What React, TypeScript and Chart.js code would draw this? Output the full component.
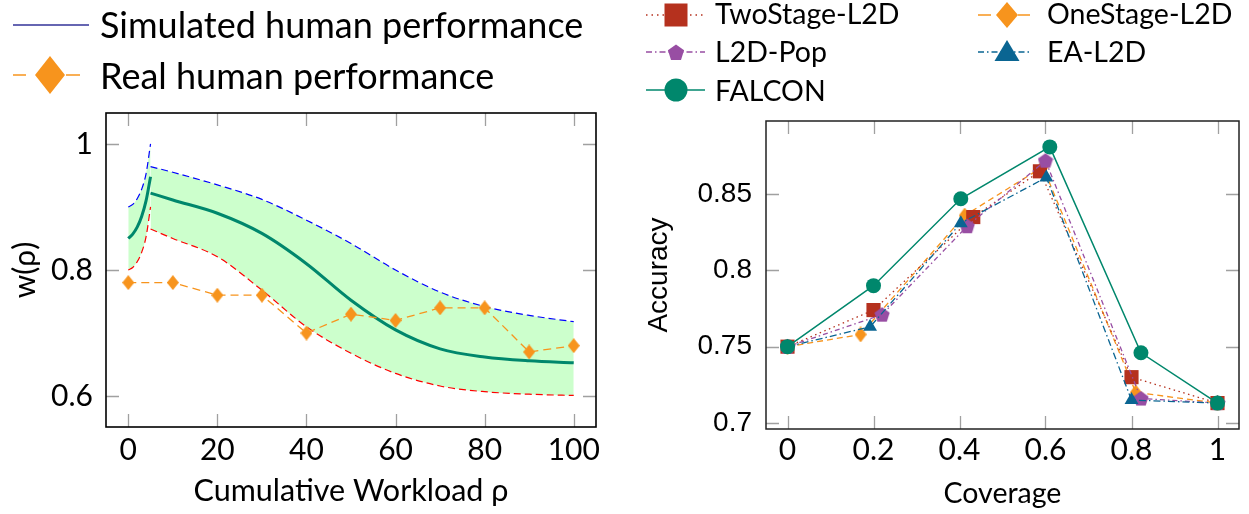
import React, { useEffect, useRef } from 'react';
import { Chart, registerables } from 'chart.js';

Chart.register(...registerables);

// ---------------- Left panel data ----------------
const realWorkload = [0, 10, 20, 30, 40, 50, 60, 70, 80, 90, 100];
const realPerformance = [0.78, 0.78, 0.76, 0.76, 0.70, 0.73, 0.72, 0.74, 0.74, 0.67, 0.68];

const warmupWorkload = [0, 1, 2, 3, 4, 5];
const warmupUpper = [0.9, 0.904, 0.913, 0.928, 0.953, 1.0];
const warmupMean = [0.85, 0.857, 0.868, 0.885, 0.91, 0.948];
const warmupLower = [0.8, 0.804, 0.813, 0.828, 0.853, 0.9];

const simWorkload = [5, 10, 20, 30, 40, 50, 60, 70, 80, 90, 100];
const simUpper = [0.964, 0.955, 0.935, 0.912, 0.879, 0.842, 0.8, 0.765, 0.742, 0.728, 0.718];
const simMean = [0.922, 0.911, 0.89, 0.858, 0.81, 0.752, 0.705, 0.675, 0.662, 0.656, 0.653];
const simLower = [0.865, 0.85, 0.821, 0.768, 0.71, 0.668, 0.636, 0.616, 0.607, 0.603, 0.601];

const leftXTicks = [0, 20, 40, 60, 80, 100];
const leftXLabels = ['0', '20', '40', '60', '80', '100'];
const leftYTicks = [0.6, 0.8, 1];
const leftYLabels = ['0.6', '0.8', '1'];

// ---------------- Right panel data ----------------
const coverageTwoStage = [0, 0.2, 0.432, 0.587, 0.8, 1];
const accuracyTwoStage = [0.75, 0.774, 0.835, 0.865, 0.73, 0.713];
const coverageOneStage = [0, 0.17, 0.412, 0.594, 0.81, 1];
const accuracyOneStage = [0.75, 0.758, 0.836, 0.868, 0.72, 0.713];
const coveragePop = [0, 0.22, 0.418, 0.6, 0.822, 1];
const accuracyPop = [0.75, 0.771, 0.829, 0.872, 0.716, 0.713];
const coverageEA = [0, 0.192, 0.403, 0.602, 0.8, 1];
const accuracyEA = [0.75, 0.763, 0.831, 0.861, 0.715, 0.713];
const coverageFalcon = [0, 0.2, 0.403, 0.61, 0.822, 1];
const accuracyFalcon = [0.75, 0.79, 0.847, 0.881, 0.746, 0.713];

const rightXTicks = [0, 0.2, 0.4, 0.6, 0.8, 1];
const rightXLabels = ['0', '0.2', '0.4', '0.6', '0.8', '1'];
const rightYTicks = [0.7, 0.75, 0.8, 0.85];
const rightYLabels = ['0.7', '0.75', '0.8', '0.85'];

// ---------------- Styles ----------------
const ORANGE = '#f7941d';
const TEAL = '#00876c';
const BLUE_DASH = '#0000ff';
const RED_DASH = '#ff0000';
const BAND = '#ccffcc';
const RED = '#b5311e';
const PURPLE = '#984ea3';
const BLUE = '#0a6592';
const NAVY = '#333399';
const CM = 'Lato, "Open Sans", sans-serif';
const ARIAL = '"Liberation Sans", Arial, sans-serif';

const pts = (xs: number[], ys: number[]) => xs.map((x, i) => ({ x, y: ys[i] }));

function makeCanvas(w: number, h: number, draw: (ctx: CanvasRenderingContext2D) => void) {
  const c = document.createElement('canvas');
  c.width = w;
  c.height = h;
  const ctx = c.getContext('2d');
  if (ctx) draw(ctx);
  return c;
}

function diamondMarker(color: string, w: number, h: number) {
  return makeCanvas(w, h, (ctx) => {
    ctx.fillStyle = color;
    ctx.beginPath();
    ctx.moveTo(w / 2, 0);
    ctx.lineTo(w, h / 2);
    ctx.lineTo(w / 2, h);
    ctx.lineTo(0, h / 2);
    ctx.closePath();
    ctx.fill();
  });
}

function pentagonMarker(color: string, size: number) {
  return makeCanvas(size, size, (ctx) => {
    const r = size / 2;
    ctx.fillStyle = color;
    ctx.beginPath();
    for (let k = 0; k < 5; k++) {
      const a = -Math.PI / 2 + (k * 2 * Math.PI) / 5;
      const px = r + r * Math.cos(a);
      const py = r + 0.5 + r * Math.sin(a);
      if (k === 0) ctx.moveTo(px, py);
      else ctx.lineTo(px, py);
    }
    ctx.closePath();
    ctx.fill();
  });
}

const frameTicksPlugin = {
  id: 'frameTicks',
  beforeDatasetsDraw(chart: any, _args: any, opts: any) {
    const { ctx, chartArea: a } = chart;
    const xs = chart.scales.x;
    const ys = chart.scales.y;
    const L = opts.len || 13;
    ctx.save();
    ctx.strokeStyle = opts.tickColor || '#a0a0a0';
    ctx.lineWidth = 1.3;
    ctx.beginPath();
    xs.ticks.forEach((t: any) => {
      const p = Math.round(xs.getPixelForValue(t.value)) + 0.5;
      ctx.moveTo(p, a.bottom);
      ctx.lineTo(p, a.bottom - L);
      ctx.moveTo(p, a.top);
      ctx.lineTo(p, a.top + L);
    });
    ys.ticks.forEach((t: any) => {
      const p = Math.round(ys.getPixelForValue(t.value)) + 0.5;
      ctx.moveTo(a.left, p);
      ctx.lineTo(a.left + L, p);
      ctx.moveTo(a.right, p);
      ctx.lineTo(a.right - L, p);
    });
    ctx.stroke();
    ctx.restore();
  },
  afterDraw(chart: any, _args: any, opts: any) {
    const { ctx, chartArea: a } = chart;
    ctx.save();
    ctx.strokeStyle = opts.frameColor || '#000';
    ctx.lineWidth = opts.frameWidth || 1.5;
    ctx.strokeRect(a.left, a.top, a.right - a.left, a.bottom - a.top);
    ctx.restore();
  },
};

function fixedTicks(values: number[]) {
  return (scale: any) => {
    scale.ticks = values.map((v) => ({ value: v }));
  };
}

function fitTo(prop: 'width' | 'height', size: number) {
  return (s: any) => {
    s[prop] = size;
    s.paddingTop = 0;
    s.paddingBottom = 0;
    s.paddingLeft = 0;
    s.paddingRight = 0;
  };
}

function leftConfig(): any {
  const line = (label: string, xs: number[], ys: number[], extra: any) => ({
    label,
    data: pts(xs, ys),
    pointRadius: 0,
    cubicInterpolationMode: 'monotone',
    fill: false,
    ...extra,
  });
  return {
    type: 'line',
    data: {
      datasets: [
        {
          label: 'Real human performance',
          data: pts(realWorkload, realPerformance),
          borderColor: ORANGE,
          backgroundColor: ORANGE,
          borderWidth: 1.3,
          borderDash: [8, 5],
          pointStyle: diamondMarker(ORANGE, 12, 15),
          pointRadius: 7,
          tension: 0,
          fill: false,
        },
        line('Simulated mean (warm-up)', warmupWorkload, warmupMean, { borderColor: TEAL, borderWidth: 3 }),
        line('Simulated mean', simWorkload, simMean, { borderColor: TEAL, borderWidth: 3 }),
        line('Upper (warm-up)', warmupWorkload, warmupUpper, {
          borderColor: BLUE_DASH, borderWidth: 1.2, borderDash: [7, 4],
          fill: { target: 5, above: BAND, below: BAND },
        }),
        line('Upper', simWorkload, simUpper, {
          borderColor: BLUE_DASH, borderWidth: 1.2, borderDash: [7, 4],
          fill: { target: 6, above: BAND, below: BAND },
        }),
        line('Lower (warm-up)', warmupWorkload, warmupLower, { borderColor: RED_DASH, borderWidth: 1.2, borderDash: [7, 4] }),
        line('Lower', simWorkload, simLower, { borderColor: RED_DASH, borderWidth: 1.2, borderDash: [7, 4] }),
      ],
    },
    options: {
      responsive: false,
      animation: false,
      events: [],
      layout: { padding: { top: 13, right: 14, left: 0, bottom: 0 } },
      scales: {
        x: {
          type: 'linear',
          min: -5,
          max: 105,
          afterBuildTicks: fixedTicks(leftXTicks),
          afterFit: fitTo('height', 87),
          grid: { display: false, drawTicks: false },
          border: { display: false },
          ticks: {
            autoSkip: false, maxRotation: 0, padding: 5, color: '#000',
            font: { family: CM, size: 30 },
            callback: (_v: any, i: number) => leftXLabels[i],
          },
          title: {
            display: true, text: 'Cumulative Workload ρ', color: '#000',
            font: { family: CM, size: 30.5 }, padding: { top: 0, bottom: 5 },
          },
        },
        y: {
          type: 'linear',
          min: 0.551,
          max: 1.049,
          afterBuildTicks: fixedTicks(leftYTicks),
          afterFit: fitTo('width', 106),
          grid: { display: false, drawTicks: false },
          border: { display: false },
          ticks: {
            autoSkip: false, padding: 13, color: '#000',
            font: { family: CM, size: 30 },
            callback: (_v: any, i: number) => leftYLabels[i],
          },
          title: {
            display: true, text: 'w(ρ)', color: '#000',
            font: { family: CM, size: 30 }, padding: { top: 7, bottom: 0 },
          },
        },
      },
      plugins: {
        legend: { display: false },
        tooltip: { enabled: false },
        filler: { drawTime: 'beforeDatasetsDraw' },
        frameTicks: { frameColor: '#000', frameWidth: 1.6, tickColor: '#a0a0a0', len: 13 },
      },
    },
    plugins: [frameTicksPlugin],
  };
}

function rightConfig(): any {
  const common = { borderWidth: 1.3, pointBorderWidth: 0, tension: 0, fill: false };
  return {
    type: 'line',
    data: {
      datasets: [
        {
          label: 'FALCON', data: pts(coverageFalcon, accuracyFalcon), ...common, borderWidth: 1.5,
          borderColor: TEAL, backgroundColor: TEAL, pointStyle: 'circle', pointRadius: 7.5, order: 0,
        },
        {
          label: 'EA-L2D', data: pts(coverageEA, accuracyEA), ...common,
          borderColor: BLUE, backgroundColor: BLUE, borderDash: [7, 3, 1.5, 3],
          pointStyle: 'triangle', pointRadius: 8, order: 1,
        },
        {
          label: 'L2D-Pop', data: pts(coveragePop, accuracyPop), ...common,
          borderColor: PURPLE, backgroundColor: PURPLE, borderDash: [5, 3, 1.5, 3],
          pointStyle: pentagonMarker(PURPLE, 16), pointRadius: 8, order: 2,
        },
        {
          label: 'TwoStage-L2D', data: pts(coverageTwoStage, accuracyTwoStage), ...common,
          borderColor: RED, backgroundColor: RED, borderDash: [1.5, 3.5],
          pointStyle: 'rect', pointRadius: 10, order: 3,
        },
        {
          label: 'OneStage-L2D', data: pts(coverageOneStage, accuracyOneStage), ...common,
          borderColor: ORANGE, backgroundColor: ORANGE, borderDash: [6, 4],
          pointStyle: diamondMarker(ORANGE, 12, 16), pointRadius: 8, order: 4,
        },
      ],
    },
    options: {
      responsive: false,
      animation: false,
      events: [],
      layout: { padding: { top: 11, right: 4, left: 0, bottom: 0 } },
      scales: {
        x: {
          type: 'linear',
          min: -0.05,
          max: 1.05,
          afterBuildTicks: fixedTicks(rightXTicks),
          afterFit: fitTo('height', 85),
          grid: { display: false, drawTicks: false },
          border: { display: false },
          ticks: {
            autoSkip: false, maxRotation: 0, padding: 3, color: '#000',
            font: { family: CM, size: 30 },
            callback: (_v: any, i: number) => rightXLabels[i],
          },
          title: {
            display: true, text: 'Coverage', color: '#000',
            font: { family: CM, size: 28.5 }, padding: { top: 0, bottom: 3 },
          },
        },
        y: {
          type: 'linear',
          min: 0.696,
          max: 0.898,
          afterBuildTicks: fixedTicks(rightYTicks),
          afterFit: fitTo('width', 146),
          grid: { display: false, drawTicks: false },
          border: { display: false },
          ticks: {
            autoSkip: false, padding: 14, color: '#000',
            font: { family: ARIAL, size: 28 },
            callback: (_v: any, i: number) => rightYLabels[i],
          },
          title: {
            display: true, text: 'Accuracy', color: '#000',
            font: { family: ARIAL, size: 28 }, padding: { top: 22, bottom: 0 },
          },
        },
      },
      plugins: {
        legend: { display: false },
        tooltip: { enabled: false },
        frameTicks: { frameColor: '#222', frameWidth: 1.5, tickColor: '#a0a0a0', len: 13 },
      },
    },
    plugins: [frameTicksPlugin],
  };
}

const legendText = (text: string, left: number, cy: number, size: number) => (
  <div
    key={text}
    style={{
      position: 'absolute', left, top: cy - size / 2, height: size, lineHeight: `${size}px`,
      fontFamily: CM, fontSize: size, color: '#000', whiteSpace: 'nowrap',
    }}
  >
    {text}
  </div>
);

function pentagonPoints(cx: number, cy: number, r: number) {
  const out: string[] = [];
  for (let k = 0; k < 5; k++) {
    const a = -Math.PI / 2 + (k * 2 * Math.PI) / 5;
    out.push(`${cx + r * Math.cos(a)},${cy + r * Math.sin(a)}`);
  }
  return out.join(' ');
}

export default function App() {
  const leftRef = useRef<HTMLCanvasElement>(null);
  const rightRef = useRef<HTMLCanvasElement>(null);

  useEffect(() => {
    const left = new Chart(leftRef.current as HTMLCanvasElement, leftConfig());
    const right = new Chart(rightRef.current as HTMLCanvasElement, rightConfig());
    return () => {
      left.destroy();
      right.destroy();
    };
  }, []);

  return (
    <div style={{ position: 'absolute', left: 0, top: 0, width: 1249, height: 514, background: '#fff', overflow: 'hidden' }}>
      <canvas ref={leftRef} width={610} height={414} style={{ position: 'absolute', left: 0, top: 100, width: 610, height: 414 }} />
      <canvas ref={rightRef} width={629} height={404} style={{ position: 'absolute', left: 620, top: 110, width: 629, height: 404 }} />

      <svg width={1249} height={110} style={{ position: 'absolute', left: 0, top: 0 }}>
        {/* left legend */}
        <line x1={13} y1={25} x2={89} y2={25} stroke={NAVY} strokeWidth={1.5} />
        <line x1={13} y1={75} x2={26} y2={75} stroke={ORANGE} strokeWidth={1.5} />
        <line x1={66} y1={75} x2={80} y2={75} stroke={ORANGE} strokeWidth={1.5} />
        <polygon points="50,56 65,75 50,94 35,75" fill={ORANGE} />

        {/* right legend */}
        <line x1={646} y1={15} x2={705} y2={15} stroke={RED} strokeWidth={1.5} strokeDasharray="1.5 4" />
        <rect x={664.5} y={3.5} width={23} height={23} fill={RED} />
        <line x1={978} y1={15} x2={991} y2={15} stroke={ORANGE} strokeWidth={1.5} />
        <line x1={1018} y1={15} x2={1030} y2={15} stroke={ORANGE} strokeWidth={1.5} />
        <polygon points="1007,2 1018,15 1007,28 996,15" fill={ORANGE} />

        <line x1={646} y1={52} x2={705} y2={52} stroke={PURPLE} strokeWidth={1.5} strokeDasharray="6 3 1.5 3" />
        <polygon points={pentagonPoints(676, 53, 8.5)} fill={PURPLE} />
        <line x1={978} y1={52} x2={1030} y2={52} stroke={BLUE} strokeWidth={1.5} strokeDasharray="6 3 1.5 3" />
        <polygon points="1007,40 1019.5,61 994.5,61" fill={BLUE} />

        <line x1={646} y1={90} x2={705} y2={90} stroke={TEAL} strokeWidth={1.5} />
        <circle cx={676} cy={90} r={11.5} fill={TEAL} />
      </svg>

      {legendText('Simulated human performance', 100, 24, 36)}
      {legendText('Real human performance', 100, 75, 36)}
      {legendText('TwoStage-L2D', 715, 13, 28.5)}
      {legendText('OneStage-L2D', 1047, 13, 28.5)}
      {legendText('L2D-Pop', 715, 51, 28.5)}
      {legendText('EA-L2D', 1047, 51, 28.5)}
      {legendText('FALCON', 715, 90, 28.5)}
    </div>
  );
}
